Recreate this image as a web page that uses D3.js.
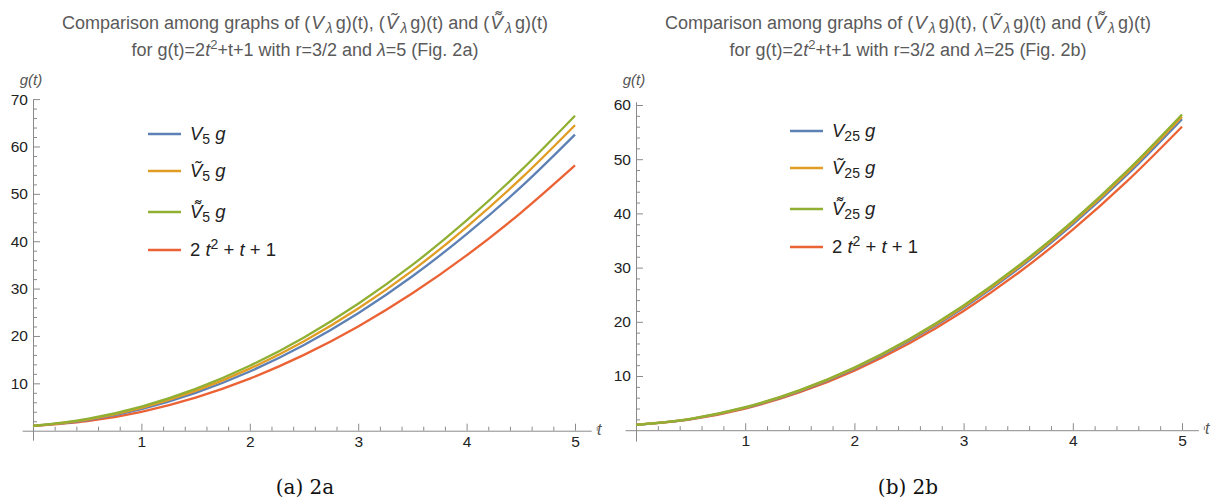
<!DOCTYPE html>
<html>
<head>
<meta charset="utf-8">
<script src="https://cdn.jsdelivr.net/npm/d3@7"></script>
<style>
  body { margin: 0; background: #fff; }
  svg { display: block; }
  .tick text { font-family: "Liberation Sans", Arial, sans-serif; font-size: 15.5px; fill: #222; }
</style>
</head>
<body>
<div id="graph"></div>
<script>
// t sample points
const tValues = [0, 0.5, 1, 1.5, 2, 2.5, 3, 3.5, 4, 4.5, 5]

// Fig. 2a (lambda = 5)
const v5 = [1, 2.24, 4.57, 7.99, 12.5, 18.1, 24.8, 32.6, 41.5, 51.4, 62.5]
const vt5 = [1, 2.36, 4.83, 8.41, 13.1, 18.9, 25.8, 33.8, 43.0, 53.2, 64.5]
const vtt5 = [1, 2.49, 5.1, 8.84, 13.7, 19.7, 26.8, 35.0, 44.4, 54.9, 66.5]
const gA = [1, 2, 4, 7, 11, 16, 22, 29, 37, 46, 56]

// Fig. 2b (lambda = 25)
const v25 = [1, 2.05, 4.12, 7.21, 11.32, 16.45, 22.6, 29.77, 37.96, 47.17, 57.4]
const vt25 = [1, 2.08, 4.18, 7.3, 11.45, 16.62, 22.82, 30.04, 38.28, 47.54, 57.83]
const vtt25 = [1, 2.11, 4.24, 7.4, 11.58, 16.79, 23.03, 30.3, 38.59, 47.91, 58.26]
const gB = [1, 2, 4, 7, 11, 16, 22, 29, 37, 46, 56]

const xMajor = [1, 2, 3, 4, 5]
const yMajorA = [10, 20, 30, 40, 50, 60, 70]
const yMajorB = [10, 20, 30, 40, 50, 60]

const colors = ["#5e81b5", "#e19c24", "#8fb032", "#eb6235"]

const svg = d3.select("#graph").append("svg")
  .attr("width", 1213)
  .attr("height", 499)

const tfont = "'Liberation Sans', Arial, sans-serif"

function drawPanel(p) {
  const g = svg.append("g")

  const x = d3.scaleLinear().domain([-0.1, 5.15]).range([p.x0 - 0.1 * p.kx, p.x0 + 5.15 * p.kx])
  const y = d3.scaleLinear().domain([-2, p.yTop]).range([p.y0 + 2 * p.ky, p.y0 - p.yTop * p.ky])

  const axisGrey = "#8a8a8a"

  // x axis (ticks point up, like Mathematica)
  const xMinor = d3.range(0, 5.2001, 0.2).filter(v => Math.abs(v - Math.round(v)) > 1e-6)
  const xa = g.append("g").attr("transform", "translate(0," + y(0) + ")")
  xa.call(d3.axisBottom(x).tickValues(xMajor).tickSizeInner(-7).tickSizeOuter(0).tickPadding(5).tickFormat(d3.format("d")))
  xa.append("g").call(d3.axisBottom(x).tickValues(xMinor).tickSizeInner(-4).tickSizeOuter(0).tickFormat(""))
    .select(".domain").remove()

  // y axis (ticks point right)
  const yMinor = d3.range(2, p.yTop + 0.01, 2).filter(v => v % 10 !== 0)
  const ya = g.append("g").attr("transform", "translate(" + x(0) + ",0)")
  ya.call(d3.axisLeft(y).tickValues(p.yMajor).tickSizeInner(-7).tickSizeOuter(0).tickPadding(5).tickFormat(d3.format("d")))
  ya.append("g").call(d3.axisLeft(y).tickValues(yMinor).tickSizeInner(-4).tickSizeOuter(0).tickFormat(""))
    .select(".domain").remove()

  g.selectAll(".domain, .tick line").attr("stroke", axisGrey)

  // curves
  const line = d3.line()
    .x((d, i) => x(tValues[i]))
    .y(d => y(d))
    .curve(d3.curveMonotoneX)

  // draw red first so the others sit on top at the start
  const order = [3, 0, 1, 2]
  order.forEach(k => {
    g.append("path")
      .datum(p.series[k])
      .attr("fill", "none")
      .attr("stroke", colors[k])
      .attr("stroke-width", 2.3)
      .attr("d", line)
  })

  // axis labels
  g.append("text")
    .attr("x", x(0) - 2).attr("y", 85).attr("text-anchor", "middle")
    .attr("font-family", tfont)
    .attr("font-style", "italic").attr("font-size", 15).attr("fill", "#555")
    .text("g(t)")
  g.append("text")
    .attr("x", p.tLabelX).attr("y", y(0) + 4)
    .attr("font-family", tfont)
    .attr("font-style", "italic").attr("font-size", 16).attr("fill", "#555")
    .text("t")

  // title
  const t1 = g.append("text").attr("x", p.cx).attr("y", 29).attr("text-anchor", "middle")
    .attr("font-family", tfont).attr("font-size", 18).attr("fill", "#5a5a5a")
  t1.append("tspan").text("Comparison among graphs of (")
  const mathGroup = (accent) => {
    t1.append("tspan").attr("font-style", "italic").attr("font-size", 19).attr("dx", 1).text("V" + accent)
    t1.append("tspan").attr("font-style", "italic").attr("font-size", 14).attr("dx", 2).attr("dy", 4).text("λ")
    t1.append("tspan").attr("dx", 3).attr("dy", -4).text("g")
  }
  mathGroup("")
  t1.append("tspan").text(")(t), (")
  mathGroup("\u0303")
  t1.append("tspan").text(")(t) and (")
  mathGroup("\u034C")
  t1.append("tspan").text(")(t)")

  const t2 = g.append("text").attr("x", p.cx).attr("y", 56).attr("text-anchor", "middle")
    .attr("font-family", tfont).attr("font-size", 18).attr("fill", "#5a5a5a")
  t2.append("tspan").text("for g(t)=2")
  t2.append("tspan").attr("font-style", "italic").text("t")
  t2.append("tspan").attr("font-size", 13).attr("dy", -7).text("2")
  t2.append("tspan").attr("dy", 7).text("+t+1 with r=3/2 and ")
  t2.append("tspan").attr("font-style", "italic").text("λ")
  t2.append("tspan").text("=" + p.lambda + " (Fig. " + p.fig + ")")

  // legend
  const lg = g.append("g").attr("transform", "translate(" + p.legX + "," + p.legY + ")")
  const rowY = [0, 37, 78, 116]
  const names = [
    [["V", "i", 0], [p.lambda, "s", 4], [" g", "i", -4]],
    [["V\u0303", "i", 0], [p.lambda, "s", 4], [" g", "i", -4]],
    [["V\u034C", "i", 0], [p.lambda, "s", 4], [" g", "i", -4]],
    [["2 ", "n", 0], ["t", "i", 0], ["2", "p", -7], [" + ", "n", 7], ["t", "i", 0], [" + 1", "n", 0]]
  ]
  names.forEach((parts, k) => {
    lg.append("line")
      .attr("x1", 0).attr("x2", 33).attr("y1", rowY[k]).attr("y2", rowY[k])
      .attr("stroke", colors[k]).attr("stroke-width", 2.5)
    const tx = lg.append("text").attr("x", 42).attr("y", rowY[k] + 6)
      .attr("font-family", tfont).attr("font-size", 18.5).attr("fill", "#222")
    parts.forEach(([s, kind, dy]) => {
      const sp = tx.append("tspan").text(s).attr("dy", dy)
      if (kind === "i") sp.attr("font-style", "italic")
      if (kind === "s" || kind === "p") sp.attr("font-size", 14)
    })
  })

  // caption
  g.append("text").attr("x", p.cx).attr("y", 494).attr("text-anchor", "middle")
    .attr("font-family", "'DejaVu Serif', 'Liberation Serif', serif").attr("font-size", 20).attr("fill", "#111")
    .text(p.caption)
}

drawPanel({
  x0: 33, kx: 108.4, y0: 430.7, ky: 4.737, yTop: 70, yMajor: yMajorA,
  series: [v5, vt5, vtt5, gA], lambda: 5, fig: "2a", cx: 305,
  legX: 148, legY: 134, tLabelX: 597, caption: "(a) 2a"
})
drawPanel({
  x0: 636, kx: 109.2, y0: 430.2, ky: 5.42, yTop: 60.6, yMajor: yMajorB,
  series: [v25, vt25, vtt25, gB], lambda: 25, fig: "2b", cx: 908,
  legX: 790, legY: 131, tLabelX: 1205, caption: "(b) 2b"
})
</script>
</body>
</html>
